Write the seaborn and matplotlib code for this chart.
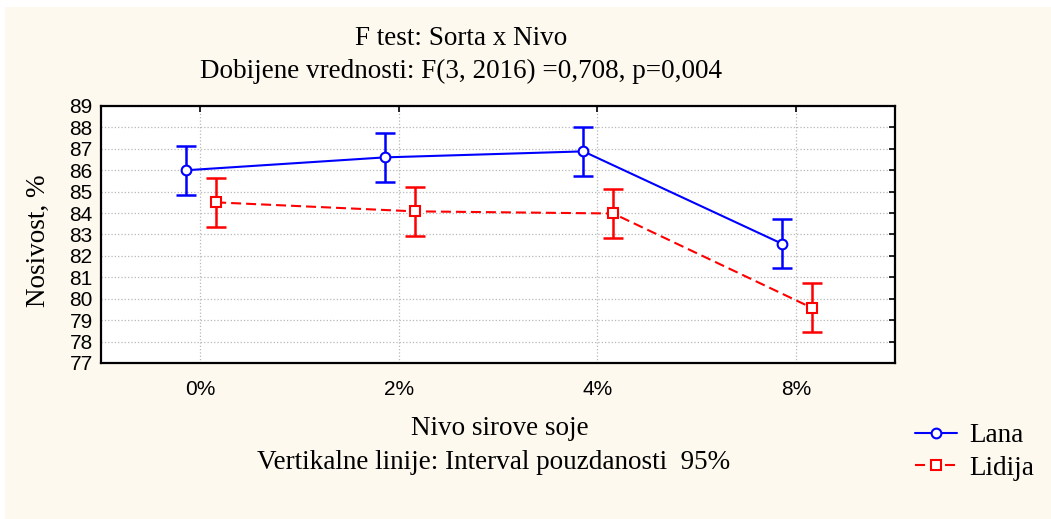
import pandas as pd
import seaborn as sns
import matplotlib.pyplot as plt
from matplotlib.patches import Rectangle
from matplotlib.lines import Line2D

# data
levels = ["0%", "2%", "4%", "8%"]
lana_mean = [86.0, 86.6, 86.88, 82.57]
lana_ci = [1.14, 1.14, 1.14, 1.14]
lidija_mean = [84.5, 84.08, 83.98, 79.58]
lidija_ci = [1.14, 1.14, 1.14, 1.14]
y_ticks = list(range(77, 90))

sns.set_theme(style="white")
plt.rcParams['font.family'] = ['Liberation Serif', 'DejaVu Serif']
plt.rcParams['text.color'] = 'black'
plt.rcParams['xtick.color'] = 'black'
plt.rcParams['ytick.color'] = 'black'

colors = {"Lana": "#0000FF", "Lidija": "#FF0000"}
offsets = {"Lana": -0.07, "Lidija": 0.08}

# long table for seaborn
rows = []
for name, means, cis in [("Lana", lana_mean, lana_ci), ("Lidija", lidija_mean, lidija_ci)]:
    for i, lev in enumerate(levels):
        rows.append({"sorta": name, "nivo": lev, "x": i + offsets[name],
                     "mean": means[i], "ci": cis[i]})
df = pd.DataFrame(rows)

fig = plt.figure(figsize=(10.51, 5.19), dpi=100, facecolor="white")
fig.patches.append(Rectangle((5 / 1051, 0), 1, 1 - 7 / 519, transform=fig.transFigure,
                             facecolor="#FEF9EF", edgecolor="none", zorder=-5))
ax = fig.add_axes([0.0961, 0.3006, 0.7555, 0.4952])
ax.set_facecolor("white")

# confidence interval bars
for name, grp in df.groupby("sorta"):
    eb = ax.errorbar(grp["x"], grp["mean"], yerr=grp["ci"], fmt="none", ecolor=colors[name],
                     elinewidth=1.8, capsize=7.5, capthick=1.8, zorder=3)
    for cap in eb[1]:
        cap.set_markeredgecolor(colors[name])
        cap.set_color(colors[name])

sns.lineplot(data=df, x="x", y="mean", hue="sorta", style="sorta", palette=colors,
             markers={"Lana": "o", "Lidija": "s"}, dashes={"Lana": "", "Lidija": (4.8, 2.4)},
             sort=False, lw=1.5, markersize=7, legend=False, ax=ax, zorder=4)
for line in ax.lines:
    if line.get_marker() in ("o", "s"):
        line.set_markeredgecolor(line.get_color())
        line.set_markerfacecolor("white")
        line.set_markeredgewidth(1.5)

ax.set_xlim(-0.5, 3.5)
ax.set_ylim(77, 89)
ax.set_xticks(range(len(levels)))
ax.set_xticklabels(levels, fontfamily="Liberation Sans", fontsize=15)
ax.set_yticks(y_ticks)
ax.set_yticklabels([str(v) for v in y_ticks], fontfamily="Liberation Sans", fontsize=15)
ax.tick_params(direction="in", length=4, width=1.2, top=True, right=True, color="black")
ax.tick_params(axis="x", pad=12)
ax.tick_params(axis="y", pad=6)
ax.grid(True, linestyle=":", color="#b8b8b8", linewidth=0.9)
for sp in ax.spines.values():
    sp.set_color("black")
    sp.set_linewidth(1.6)
ax.set_xlabel("")
ax.set_ylabel("")

fs = 19.5
fig.text(461 / 1051, 1 - 45 / 519, "F test: Sorta x Nivo", ha="center", va="baseline", fontsize=fs)
fig.text(461 / 1051, 1 - 78 / 519, "Dobijene vrednosti: F(3, 2016) =0,708, p=0,004",
         ha="center", va="baseline", fontsize=fs)
fig.text(500 / 1051, 1 - 435 / 519, "Nivo sirove soje", ha="center", va="baseline", fontsize=fs)
fig.text(494 / 1051, 1 - 469 / 519, "Vertikalne linije: Interval pouzdanosti  95%",
         ha="center", va="baseline", fontsize=fs)
fig.text(38 / 1051, 1 - 241 / 519, "Nosivost, %", rotation=90, ha="center", va="center", fontsize=fs)

handles = [
    Line2D([], [], color=colors["Lana"], lw=1.5, marker="o", markersize=7,
           markerfacecolor="white", markeredgewidth=1.5),
    Line2D([], [], color=colors["Lidija"], lw=1.5, ls=(0, (4.8, 2.4)), marker="s", markersize=7,
           markerfacecolor="white", markeredgewidth=1.5),
]
fig.legend(handles, ["Lana", "Lidija"], loc="center left", bbox_to_anchor=(915 / 1051, 1 - 452 / 519),
           frameon=False, fontsize=fs, handlelength=1.55, handletextpad=0.45,
           labelspacing=0.28, borderpad=0, borderaxespad=0)

fig.savefig("out.png", dpi=100, facecolor=fig.get_facecolor())
